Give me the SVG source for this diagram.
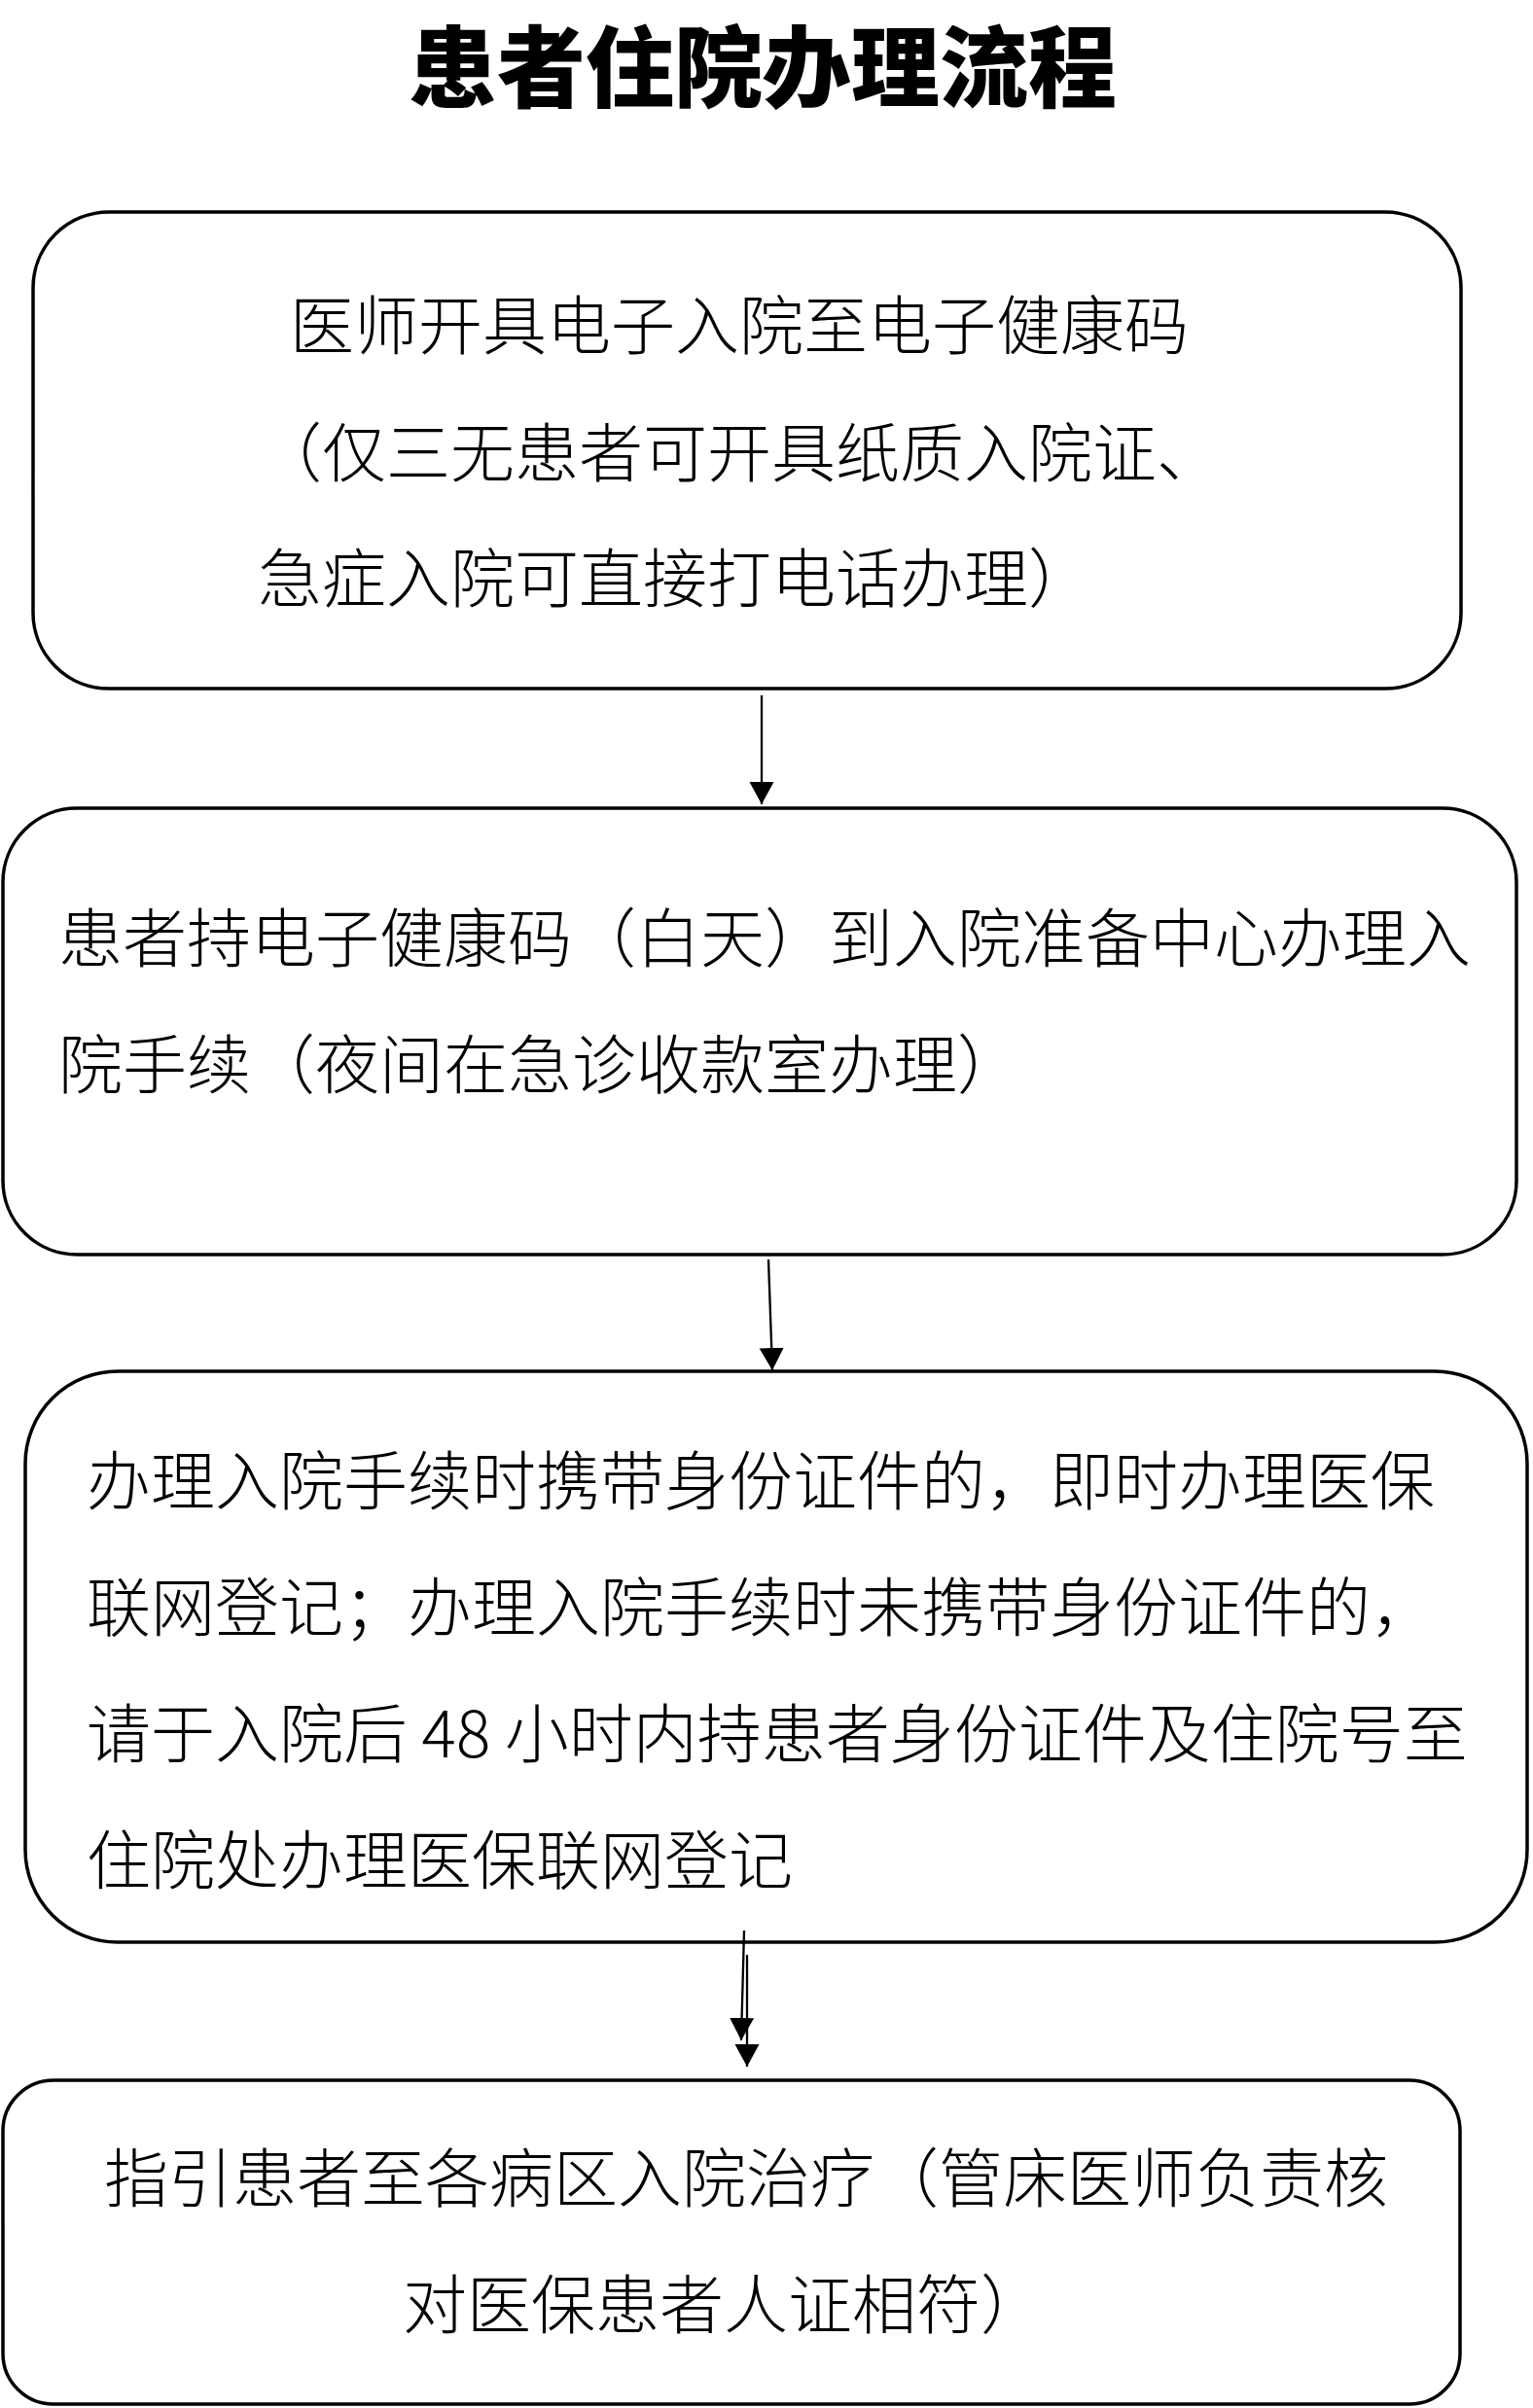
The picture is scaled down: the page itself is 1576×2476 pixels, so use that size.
<svg xmlns="http://www.w3.org/2000/svg" width="1576" height="2476" viewBox="0 0 1576 2476">
<style>
.box{fill:#fff;stroke:#000;stroke-width:3.5}
.t{font-family:"Noto Sans CJK SC","Noto Sans",sans-serif;font-size:66px;font-weight:300;fill:#000;dominant-baseline:central}
.title{font-family:"Noto Sans CJK SC","Noto Sans",sans-serif;font-size:91px;font-weight:900;fill:#000;dominant-baseline:central;text-anchor:middle}
.c{stroke:#000;stroke-width:2.3;fill:none}
</style>
<defs>
<marker id="ah" markerUnits="userSpaceOnUse" markerWidth="26" markerHeight="26" viewBox="0 0 26 26" refX="23" refY="13" orient="auto">
<path d="M0,0.5 L23,13 L0,25.5 Z" fill="#000"/>
</marker>
</defs>
<rect width="1576" height="2476" fill="#fff"/>
<g id="title"><text class="title" x="784" y="63">患者住院办理流程</text></g>
<g id="n1">
<rect class="box" x="34" y="218" width="1468" height="490" rx="78" ry="78"/>
<text class="t" x="298" y="330">医师开具电子入院至电子健康码</text>
<text class="t" x="265" y="461">（仅三无患者可开具纸质入院证、</text>
<text class="t" x="265" y="590">急症入院可直接打电话办理）</text>
</g>
<g id="n2">
<rect class="box" x="3" y="831" width="1556" height="459" rx="76" ry="76"/>
<text class="t" x="60" y="960">患者持电子健康码（白天）到入院准备中心办理入</text>
<text class="t" x="60" y="1090">院手续（夜间在急诊收款室办理）</text>
</g>
<g id="n3">
<rect class="box" x="26" y="1410" width="1544" height="587" rx="95" ry="95"/>
<text class="t" x="89" y="1518">办理入院手续时携带身份证件的，即时办理医保</text>
<text class="t" x="89" y="1648">联网登记；办理入院手续时未携带身份证件的，</text>
<text class="t" x="89" y="1778">请于入院后 48 小时内持患者身份证件及住院号至</text>
<text class="t" x="89" y="1908">住院处办理医保联网登记</text>
</g>
<g id="n4">
<rect class="box" x="3" y="2139" width="1498" height="333" rx="52" ry="52"/>
<text class="t" x="107" y="2235">指引患者至各病区入院治疗（管床医师负责核</text>
<text class="t" x="414" y="2365">对医保患者人证相符）</text>
</g>
<g id="connectors">
<line class="c" x1="783" y1="715" x2="783" y2="827" marker-end="url(#ah)"/>
<line class="c" x1="790" y1="1295" x2="794" y2="1409" marker-end="url(#ah)"/>
<line class="c" x1="765" y1="1985" x2="762" y2="2098" marker-end="url(#ah)"/>
<line class="c" x1="768" y1="2010" x2="768" y2="2125" marker-end="url(#ah)"/>
</g>
</svg>
